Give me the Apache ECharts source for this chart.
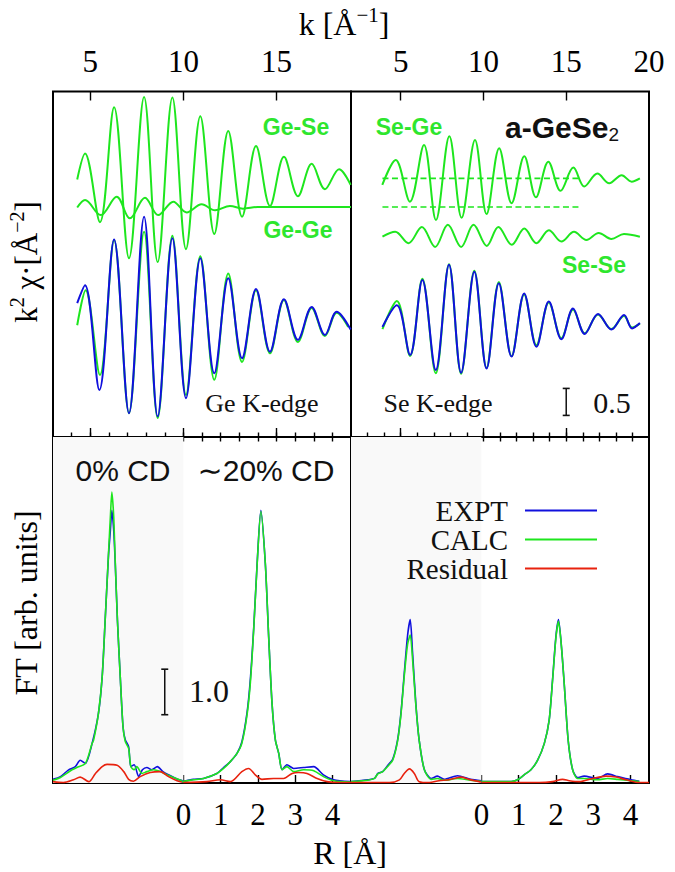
<!DOCTYPE html>
<html><head><meta charset="utf-8">
<script src="https://cdn.jsdelivr.net/npm/echarts@6.0.0/dist/echarts.min.js"></script>
<style>html,body{margin:0;padding:0;background:#fff}#c{width:675px;height:872px}</style>
</head><body><div id="c"></div>
<script>
// ---------- tick values ----------
const kTicksLeft = [4,5,6,7,8,9,10,11,12,13,14,15,16,17,18];
const kTicksRight = [3,4,5,6,7,8,9,10,11,12,13,14,15,16,17,18,19];
const kMajorLeft = [5,10,15];
const kMajorRight = [5,10,15];
const kLabelsLeft = [5,10,15];
const kLabelsRight = [5,10,15,20];
const rTicks = [0,1,2,3,4];

// ---------- top-left: Ge K-edge (k, k^2 chi, offset units) ----------
const geSe = [[4.3,4.77],[4.72,5.25],[5.52,3.98],[6.28,6.11],[7.08,3.31],[7.89,6.30],[8.62,3.24],[9.41,6.29],[10.14,3.48],[10.91,5.94],[11.66,3.76],[12.41,5.67],[13.15,4.08],[13.9,5.39],[14.65,4.28],[15.4,5.19],[16.15,4.46],[16.89,5.06],[17.6,4.59],[18.36,4.96],[18.98,4.67]];
const geGe = [[4.3,4.25],[4.72,4.39],[5.56,4.11],[6.42,4.45],[7.13,4.05],[7.94,4.43],[8.65,4.11],[9.46,4.36],[10.18,4.16],[10.98,4.31],[11.7,4.20],[12.5,4.28],[13.2,4.23],[14.0,4.26],[15.5,4.26],[17.0,4.26],[19.0,4.26]];
const geExpt = [[4.3,2.48],[4.72,2.81],[5.49,0.87],[6.28,3.66],[7.08,0.44],[7.89,4.08],[8.62,0.38],[9.41,3.68],[10.14,0.72],[10.91,3.31],[11.66,1.18],[12.41,2.94],[13.15,1.46],[13.9,2.74],[14.65,1.58],[15.4,2.55],[16.15,1.80],[16.89,2.41],[17.6,1.89],[18.23,2.32],[18.98,1.99]];
const geCalc = [[4.3,2.07],[4.75,2.72],[5.52,1.15],[6.28,3.65],[7.08,0.44],[7.89,3.80],[8.62,0.35],[9.41,3.73],[10.14,0.78],[10.91,3.35],[11.66,1.06],[12.41,3.03],[13.15,1.39],[13.9,2.72],[14.65,1.55],[15.4,2.54],[16.15,1.76],[16.89,2.39],[17.6,1.87],[18.23,2.30],[18.85,2.04]];

// ---------- top-right: Se K-edge ----------
const seGe = [[3.89,4.67],[4.7,5.13],[5.56,4.36],[6.41,5.41],[7.13,4.02],[7.94,5.57],[8.68,4.06],[9.49,5.50],[10.19,4.13],[10.95,5.35],[11.7,4.33],[12.47,5.20],[13.17,4.44],[13.92,5.10],[14.66,4.56],[15.43,4.99],[16.09,4.64],[16.88,4.88],[17.6,4.70],[18.35,4.85],[18.95,4.73],[19.45,4.79]];
const seSe = [[3.9,3.71],[4.67,3.80],[5.47,3.59],[6.28,3.89],[7.08,3.52],[7.85,3.93],[8.65,3.52],[9.4,3.93],[10.2,3.54],[10.9,3.89],[11.71,3.56],[12.47,3.86],[13.2,3.59],[13.95,3.83],[14.71,3.62],[15.47,3.80],[16.22,3.65],[16.96,3.78],[17.73,3.67],[18.49,3.76],[19.45,3.71]];
const seBaseUpper = [[3.9,4.79],[15.75,4.79]];
const seBaseLower = [[3.9,4.26],[15.95,4.26]];
const seExpt = [[3.9,2.04],[4.77,2.44],[5.57,1.52],[6.31,2.91],[7.12,1.24],[7.92,3.19],[8.65,1.19],[9.45,3.06],[10.19,1.27],[10.93,2.85],[11.7,1.49],[12.46,2.66],[13.2,1.67],[13.95,2.51],[14.71,1.81],[15.41,2.38],[16.12,1.91],[16.92,2.28],[17.73,1.99],[18.49,2.26],[18.98,2.01],[19.45,2.11]];
const seCalc = [[3.9,2.00],[4.77,2.52],[5.57,1.50],[6.31,2.93],[7.12,1.18],[7.92,3.20],[8.65,1.17],[9.45,3.08],[10.19,1.28],[10.93,2.87],[11.7,1.50],[12.46,2.64],[13.2,1.70],[13.95,2.49],[14.71,1.83],[15.41,2.36],[16.12,1.92],[16.92,2.27],[17.73,2.00],[18.49,2.24],[18.98,2.03],[19.45,2.10]];
const chiBar = [[15,0.4],[15,0.9]];

// ---------- bottom: FT magnitude (R shifted by -4 for 0% CD) ----------
const ge0Expt = [[-3.5,0.08],[-3.3,0.14],[-3.08,0.29],[-2.9,0.36],[-2.77,0.50],[-2.63,0.43],[-2.45,0.87],[-2.28,1.53],[-2.18,2.33],[-2.10,3.57],[-2.01,5.0],[-1.96,5.55],[-1.92,5.99],[-1.87,5.55],[-1.83,4.85],[-1.77,3.57],[-1.69,2.26],[-1.62,1.23],[-1.56,0.95],[-1.47,0.80],[-1.41,0.36],[-1.32,0.40],[-1.2,0.14],[-1.1,0.29],[-0.98,0.34],[-0.85,0.29],[-0.7,0.36],[-0.55,0.25],[-0.4,0.18],[-0.2,0.10],[-0.02,0.05]];
const ge0Calc = [[-3.5,0.06],[-3.3,0.12],[-2.99,0.29],[-2.86,0.34],[-2.63,0.43],[-2.45,0.87],[-2.41,0.94],[-2.28,1.53],[-2.18,2.33],[-2.10,3.57],[-2.01,5.04],[-1.96,5.84],[-1.92,6.39],[-1.87,5.84],[-1.83,4.89],[-1.77,3.57],[-1.69,2.26],[-1.62,1.23],[-1.56,0.91],[-1.47,0.76],[-1.41,0.36],[-1.32,0.29],[-1.25,0.36],[-1.11,0.21],[-0.98,0.25],[-0.80,0.29],[-0.62,0.25],[-0.44,0.18],[-0.26,0.12],[-0.04,0.05]];
const ge0Res = [[-3.5,0.03],[-3.22,0.01],[-2.95,0.07],[-2.77,0.13],[-2.54,0.03],[-2.36,0.21],[-2.18,0.36],[-2.05,0.41],[-1.78,0.39],[-1.60,0.25],[-1.47,0.08],[-1.34,0.04],[-1.16,0.14],[-0.89,0.23],[-0.62,0.25],[-0.40,0.14],[-0.17,0.05],[0.0,0.01]];
const ge20Expt = [[-0.04,0.03],[0.27,0.08],[0.54,0.10],[0.90,0.21],[1.08,0.34],[1.26,0.47],[1.44,0.65],[1.57,0.90],[1.71,1.55],[1.80,2.30],[1.89,3.43],[1.98,4.82],[2.08,5.99],[2.20,4.82],[2.29,3.21],[2.38,1.75],[2.47,0.94],[2.56,0.65],[2.65,0.29],[2.78,0.40],[2.96,0.32],[3.23,0.34],[3.50,0.36],[3.76,0.18],[4.03,0.07],[4.48,0.03]];
const ge20Calc = [[-0.04,0.03],[0.27,0.07],[0.54,0.10],[0.90,0.21],[1.08,0.32],[1.26,0.47],[1.44,0.65],[1.57,0.87],[1.71,1.50],[1.80,2.22],[1.89,3.40],[1.98,4.80],[2.08,5.97],[2.20,4.82],[2.29,3.21],[2.38,1.75],[2.47,0.94],[2.56,0.65],[2.65,0.29],[2.78,0.36],[2.96,0.25],[3.23,0.29],[3.50,0.27],[3.76,0.14],[4.03,0.05],[4.48,0.02]];
const ge20Res = [[0.0,0.01],[0.63,0.03],[0.99,0.07],[1.26,0.03],[1.57,0.25],[1.75,0.32],[1.93,0.18],[2.11,0.08],[2.42,0.10],[2.69,0.10],[2.92,0.21],[3.09,0.23],[3.32,0.21],[3.59,0.10],[3.86,0.03],[4.21,0.01],[4.5,0.01]];
const se0Expt = [[-3.5,0.03],[-3.05,0.07],[-2.87,0.10],[-2.78,0.21],[-2.65,0.25],[-2.51,0.39],[-2.38,0.52],[-2.25,0.94],[-2.16,1.53],[-2.07,2.41],[-1.98,3.25],[-1.91,3.59],[-1.85,2.90],[-1.76,1.75],[-1.67,0.94],[-1.53,0.29],[-1.35,0.10],[-1.18,0.15],[-1.00,0.08],[-0.64,0.16],[-0.29,0.08],[0.0,0.05]];
const se0Calc = [[-3.5,0.03],[-3.05,0.06],[-2.87,0.10],[-2.78,0.20],[-2.65,0.25],[-2.51,0.37],[-2.38,0.50],[-2.25,0.92],[-2.16,1.50],[-2.07,2.35],[-1.98,3.05],[-1.91,3.25],[-1.85,2.75],[-1.76,1.72],[-1.67,0.94],[-1.53,0.29],[-1.35,0.08],[-1.18,0.10],[-1.00,0.06],[-0.64,0.10],[-0.29,0.06],[0.0,0.04]];
const se0Res = [[-3.5,0.01],[-2.47,0.01],[-2.20,0.07],[-2.07,0.21],[-1.93,0.31],[-1.80,0.21],[-1.67,0.03],[-1.40,0.01],[-1.14,0.05],[-0.87,0.07],[-0.55,0.13],[-0.33,0.08],[-0.06,0.03],[0.0,0.02]];
const se20Expt = [[0.0,0.03],[0.80,0.03],[0.97,0.07],[1.15,0.18],[1.33,0.29],[1.51,0.50],[1.69,0.87],[1.82,1.38],[1.91,2.26],[2.00,3.21],[2.07,3.59],[2.15,2.99],[2.23,2.11],[2.33,0.94],[2.45,0.29],[2.58,0.12],[2.76,0.15],[3.12,0.10],[3.39,0.20],[3.66,0.14],[4.02,0.07],[4.24,0.04]];
const se20Calc = [[0.0,0.03],[0.80,0.03],[0.97,0.07],[1.15,0.18],[1.33,0.29],[1.51,0.50],[1.69,0.87],[1.82,1.38],[1.91,2.24],[2.00,3.18],[2.07,3.55],[2.15,2.99],[2.23,2.11],[2.33,0.94],[2.45,0.29],[2.58,0.10],[2.76,0.10],[3.12,0.07],[3.39,0.10],[3.66,0.08],[4.02,0.05],[4.24,0.03]];
const se20Res = [[0.0,0.01],[0.66,0.01],[1.55,0.01],[1.91,0.03],[2.18,0.08],[2.36,0.05],[2.63,0.03],[2.99,0.10],[3.35,0.15],[3.62,0.13],[3.89,0.07],[4.25,0.01],[4.5,0.01]];
const ftBar = [[-0.5,1.5],[-0.5,2.5]];
const shade = [[-3.5,0],[0,0]];

// ---------- styling ----------
const SERIF = '"Liberation Serif", "DejaVu Serif", serif';
const SANS = '"Liberation Sans", "DejaVu Sans", sans-serif';
const BLUE = '#1010dd', GREEN = '#1ee61e', RED = '#e8220e', TXTGREEN = '#2ee62e';

const G = [
  {left:53, top:91.5, width:298, height:345.5},
  {left:351, top:91.5, width:298, height:345.5},
  {left:53, top:437, width:298, height:346},
  {left:351, top:437, width:298, height:346}
].map(g => Object.assign(g, {show:true, borderColor:'#000', borderWidth:2, backgroundColor:'rgba(0,0,0,0)', containLabel:false}));

function tickAxis(grid, min, max, pos, ticks, len, labels, margin) {
  return {
    type:'value', gridIndex:grid, min:min, max:max, position:pos,
    axisLine:{show:false}, splitLine:{show:false},
    axisTick:{show:true, inside:true, length:len, customValues:ticks, lineStyle:{color:'#000', width:1.4}},
    axisLabel:labels ? {show:true, customValues:labels, margin:margin, color:'#000', fontFamily:SERIF, fontSize:31} : {show:false}
  };
}
const xAxis = [
  tickAxis(0,3,19,'top',kTicksLeft,4.5,kLabelsLeft,15),    //0 data axis grid0
  tickAxis(0,3,19,'top',kMajorLeft,9,null),               //1
  tickAxis(0,3,19,'bottom',kTicksLeft,4.5,null),          //2
  tickAxis(0,3,19,'bottom',kMajorLeft,9,null),            //3
  tickAxis(1,2,20,'top',kTicksRight,4.5,kLabelsRight,15), //4 data axis grid1
  tickAxis(1,2,20,'top',kMajorRight,9,null),              //5
  tickAxis(1,2,20,'bottom',kTicksRight,4.5,null),         //6
  tickAxis(1,2,20,'bottom',kMajorRight,9,null),           //7
  tickAxis(2,-3.5,4.5,'bottom',rTicks,8,rTicks,16),        //8 data axis grid2
  tickAxis(3,-3.5,4.5,'bottom',rTicks,8,rTicks,16)         //9 data axis grid3
];
const yAxis = [
  {type:'value', gridIndex:0, min:0, max:6.4, show:false},
  {type:'value', gridIndex:1, min:0, max:6.4, show:false},
  {type:'value', gridIndex:2, min:0, max:7.6, show:false},
  {type:'value', gridIndex:3, min:0, max:7.6, show:false}
];

function ln(name, data, xi, yi, color, width, extra) {
  return Object.assign({
    type:'line', name:name, data:data, xAxisIndex:xi, yAxisIndex:yi,
    showSymbol:false, symbol:'none', smooth:0.35, color:color,
    lineStyle:{color:color, width:width}, silent:true, animation:false, z:3
  }, extra || {});
}
function shadeSeries(xi, yi) {
  return {type:'line', name:'shade', data:shade, xAxisIndex:xi, yAxisIndex:yi, showSymbol:false, symbol:'none',
    lineStyle:{width:0, opacity:0}, silent:true, animation:false, z:-1,
    markArea:{silent:true, itemStyle:{color:'#f9f9f9'}, data:[[{coord:[-3.5,0]},{coord:[0,7.6]}]]}};
}
function bar(data, xi, yi) {
  return {type:'line', name:'bar', data:data, xAxisIndex:xi, yAxisIndex:yi, showSymbol:true, symbol:'rect',
    symbolSize:[7,1.6], itemStyle:{color:'#111'}, lineStyle:{color:'#111', width:1.5}, silent:true, animation:false, z:4};
}

const series = [
  ln('Ge-Se', geSe, 0, 0, GREEN, 2),
  ln('Ge-Ge', geGe, 0, 0, GREEN, 2),
  ln('CALC', geCalc, 0, 0, GREEN, 2),
  ln('EXPT', geExpt, 0, 0, BLUE, 2),
  ln('Se-Ge', seGe, 4, 1, GREEN, 2),
  ln('Se-Se', seSe, 4, 1, GREEN, 2),
  ln('base-upper', seBaseUpper, 4, 1, GREEN, 1.6, {smooth:false, lineStyle:{color:GREEN, width:1.6, type:[6,3.5]}}),
  ln('base-lower', seBaseLower, 4, 1, GREEN, 1.6, {smooth:false, lineStyle:{color:GREEN, width:1.6, type:[6,3.5]}}),
  ln('CALC', seCalc, 4, 1, GREEN, 2),
  ln('EXPT', seExpt, 4, 1, BLUE, 2),
  bar(chiBar, 4, 1),
  shadeSeries(8, 2),
  ln('EXPT', ge0Expt, 8, 2, BLUE, 1.6, {smooth:0.25}),
  ln('CALC', ge0Calc, 8, 2, GREEN, 1.6, {smooth:0.25}),
  ln('Residual', ge0Res, 8, 2, RED, 1.6, {smooth:0.3}),
  ln('EXPT', ge20Expt, 8, 2, BLUE, 1.6, {smooth:0.25}),
  ln('CALC', ge20Calc, 8, 2, GREEN, 1.6, {smooth:0.25}),
  ln('Residual', ge20Res, 8, 2, RED, 1.6, {smooth:0.3}),
  bar(ftBar, 8, 2),
  shadeSeries(9, 3),
  ln('EXPT', se0Expt, 9, 3, BLUE, 1.6, {smooth:0.25}),
  ln('CALC', se0Calc, 9, 3, GREEN, 1.6, {smooth:0.25}),
  ln('Residual', se0Res, 9, 3, RED, 1.6, {smooth:0.3}),
  ln('EXPT', se20Expt, 9, 3, BLUE, 1.6, {smooth:0.25}),
  ln('CALC', se20Calc, 9, 3, GREEN, 1.6, {smooth:0.25}),
  ln('Residual', se20Res, 9, 3, RED, 1.6, {smooth:0.3})
];

function txt(text, x, y, font, fill, extra) {
  return Object.assign({type:'text', x:x, y:y, silent:true, z:10,
    style:{text:text, font:font, fill:fill, align:'center', verticalAlign:'middle'}}, extra || {});
}
const graphic = [
  {type:'text', x:344, y:22, silent:true, z:10, style:{text:'{a|k [Å}{s|−1}{a|]}', align:'center', verticalAlign:'middle',
    rich:{a:{fontFamily:SERIF, fontSize:32, lineHeight:36, fill:'#000', verticalAlign:'bottom'}, s:{fontFamily:SERIF, fontSize:21, lineHeight:21, fill:'#000', verticalAlign:'top'}}}},
  {type:'text', x:350, y:853, silent:true, z:10, style:{text:'R [Å]', font:'32px '+SERIF, fill:'#000', align:'center', verticalAlign:'middle'}},
  {type:'text', x:24, y:262, rotation:Math.PI/2, silent:true, z:10, style:{text:'{a|k}{s|2}{a| χ·[Å}{s|−2}{a|]}', align:'center', verticalAlign:'middle',
    rich:{a:{fontFamily:SERIF, fontSize:31, lineHeight:35, fill:'#000', verticalAlign:'bottom'}, s:{fontFamily:SERIF, fontSize:20, lineHeight:20, fill:'#000', verticalAlign:'top'}}}},
  {type:'text', x:26, y:603, rotation:Math.PI/2, silent:true, z:10, style:{text:'FT [arb. units]', font:'32px '+SERIF, fill:'#000', align:'center', verticalAlign:'middle'}},
  txt('Ge-Se', 296, 127, 'bold 23px '+SANS, TXTGREEN),
  txt('Ge-Ge', 298, 230, 'bold 23px '+SANS, TXTGREEN),
  txt('Se-Ge', 409, 127, 'bold 23px '+SANS, TXTGREEN),
  txt('Se-Se', 594, 265, 'bold 23px '+SANS, TXTGREEN),
  {type:'text', x:562, y:128, silent:true, z:10, style:{text:'{b|a-GeSe}{u|2}', align:'center', verticalAlign:'middle',
    rich:{b:{fontFamily:SANS, fontWeight:'bold', fontSize:30, lineHeight:32, fill:'#111', verticalAlign:'top'}, u:{fontFamily:SANS, fontSize:19, lineHeight:19, fill:'#111', verticalAlign:'bottom'}}}},
  txt('Ge K-edge', 262, 403, '26px '+SERIF, '#111'),
  txt('Se K-edge', 438, 403, '26px '+SERIF, '#111'),
  txt('0.5', 612, 402, '30px '+SERIF, '#111'),
  txt('0% CD', 123, 470, '30px '+SANS, '#111'),
  txt('∼20% CD', 266, 470, '30px '+SANS, '#111'),
  txt('1.0', 209, 691, '32px '+SERIF, '#111')
];

const option = {
  backgroundColor:'#fff', animation:false,
  grid:G, xAxis:xAxis, yAxis:yAxis, series:series, graphic:graphic,
  legend:{data:['EXPT','CALC','Residual'], orient:'vertical', align:'right', right:78, top:496, padding:0,
    icon:'rect', itemWidth:72, itemHeight:2, itemGap:0, selectedMode:false,
    textStyle:{fontFamily:SERIF, fontSize:29, color:'#111', lineHeight:21, padding:[0,12,0,0]}}
};
const chart = echarts.init(document.getElementById('c'), null, {renderer:'svg', width:675, height:872});
chart.setOption(option);
</script></body></html>
